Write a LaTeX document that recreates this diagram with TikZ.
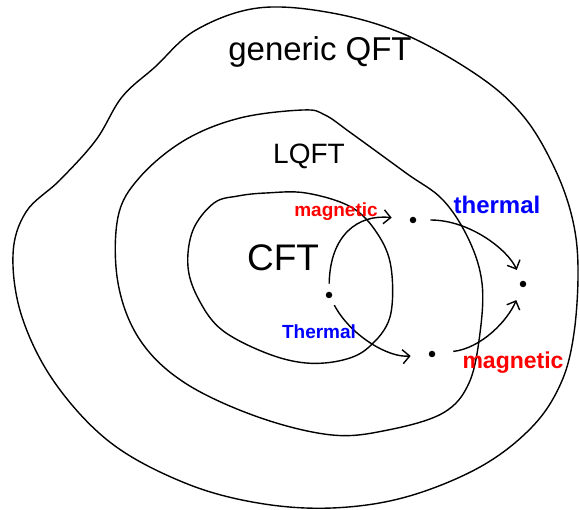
\documentclass[tikz,border=0pt]{standalone}
\usepackage{fontspec}
\setmainfont{Liberation Sans}
\usetikzlibrary{arrows.meta}
\definecolor{hred}{RGB}{255,0,0}
\definecolor{hblue}{RGB}{0,0,255}
\tikzset{
  region/.style={line width=1.4pt, black},
  dotnode/.style={circle, fill=black, inner sep=0pt, minimum size=6.5pt},
  arr/.style={line width=1.4pt, -{Straight Barb[length=7pt,width=14pt,line width=1.4pt]}},
  redlab/.style={text=hred, font=\bfseries},
  bluelab/.style={text=hblue, font=\bfseries},
  blacklab/.style={text=black}
}
\begin{document}
\begin{tikzpicture}[x=1pt,y=-1pt]
\useasboundingbox (0,0) rectangle (579,510);
% outer region
\draw[region] plot[smooth cycle, tension=0.6] coordinates {
 (258,8) (332,13) (406,35) (480,77) (524,117) (554,167) (572,217) (578,267)
 (574,333) (561,383) (532,427) (480,467) (406,497) (332,508) (258,503)
 (185,483) (111,443) (55,383) (22,317) (13,255) (26,212) (60,180)
 (96,140) (122,97) (155,67) (196,30)};
% middle region
\draw[region] plot[smooth cycle, tension=0.6] coordinates {
 (240,118) (303,110) (325,115) (351,133) (406,173) (443,200) (469,240)
 (482,283) (480,333) (469,383) (443,413) (388,430) (332,435) (258,417)
 (185,383) (140,340) (118,283) (118,217) (140,177) (185,140)};
% inner region
\draw[region] plot[smooth cycle, tension=0.6] coordinates {
 (266,193) (306,193) (351,207) (377,233) (391,267) (390,317) (369,347)
 (343,360) (306,363) (266,353) (222,330) (199,300) (188,267) (193,230)
 (214,203) (238,196)};
% labels
\node[blacklab, font=\fontsize{33}{33}\selectfont] (qft) at (320,52) {generic QFT};
\node[blacklab, font=\fontsize{28}{28}\selectfont] (lqft) at (309,156) {LQFT};
\node[blacklab, font=\fontsize{37}{37}\selectfont] (cft) at (283,258) {CFT};
% points
\node[dotnode] (c) at (329,295) {};
\node[dotnode] (b) at (413,220) {};
\node[dotnode] (d) at (523,284) {};
\node[dotnode] (e) at (432,354) {};
% arrows
\draw[arr, shorten <=8pt, shorten >=18pt] (c) .. controls (330,235) and (358,214) .. (b);
\draw[arr, shorten <=14pt, shorten >=12pt] (b) .. controls (470,220) and (508,250) .. (d);
\draw[arr, shorten <=8pt, shorten >=18pt] (c) .. controls (350,335) and (388,358) .. (e);
\draw[arr, shorten <=18pt, shorten >=14pt] (e) .. controls (482,348) and (508,320) .. (d);
% arrow labels
\node[redlab, font=\bfseries\fontsize{19}{19}\selectfont] (m1) at (336,212) {magnetic};
\node[bluelab, font=\bfseries\fontsize{24}{24}\selectfont] (t1) at (497,205) {thermal};
\node[bluelab, font=\bfseries\fontsize{19}{19}\selectfont] (t2) at (319,332) {Thermal};
\node[redlab, font=\bfseries\fontsize{23}{23}\selectfont] (m2) at (513,363) {magnetic};
\end{tikzpicture}
\end{document}
